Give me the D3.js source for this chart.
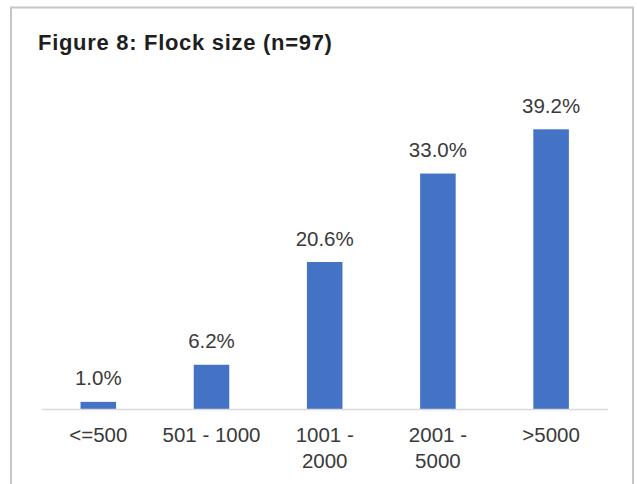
<!DOCTYPE html>
<html>
<head>
<meta charset="utf-8">
<script src="https://cdn.jsdelivr.net/npm/d3@7"></script>
<style>
  html, body { margin: 0; padding: 0; background: #ffffff; }
  svg { display: block; }
</style>
</head>
<body>
<svg id="chart" width="637" height="484"></svg>
<script>
const title = "Figure 8: Flock size (n=97)";
const categories = ["<=500", "501 - 1000", "1001 - 2000", "2001 - 5000", ">5000"];
const categoryLines = [["<=500"], ["501 - 1000"], ["1001 -", "2000"], ["2001 -", "5000"], [">5000"]];
const values = [1.0, 6.2, 20.6, 33.0, 39.2];
const valueLabels = ["1.0%", "6.2%", "20.6%", "33.0%", "39.2%"];

const svg = d3.select("#chart");
const font = "'Liberation Sans', Arial, Helvetica, sans-serif";

// outer frame
svg.append("rect")
  .attr("x", 11).attr("y", 7.5)
  .attr("width", 622).attr("height", 500)
  .attr("fill", "#ffffff")
  .attr("stroke", "#c6c6c6")
  .attr("stroke-width", 2);

// title
svg.append("text")
  .attr("x", 38).attr("y", 50)
  .attr("font-family", font)
  .attr("font-weight", "bold")
  .attr("font-size", 22)
  .attr("letter-spacing", 0.7)
  .attr("fill", "#1f1f1f")
  .text(title);

const x = d3.scaleBand()
  .domain(categories)
  .range([41.7, 607.7])
  .paddingInner(0.686)
  .paddingOuter(0.343);

const y = d3.scaleLinear()
  .domain([0, 45])
  .range([409, 409 - 45 * 7.135]);

// bars
svg.append("g").selectAll("rect")
  .data(values)
  .join("rect")
  .attr("x", (d, i) => x(categories[i]))
  .attr("y", d => y(d))
  .attr("width", x.bandwidth())
  .attr("height", d => y(0) - y(d))
  .attr("fill", "#4472C4");

// baseline axis
const xAxis = d3.axisBottom(x).tickSize(0).tickFormat("");
const axisG = svg.append("g").attr("transform", `translate(0,${y(0)})`).call(xAxis);
axisG.select(".domain").attr("stroke", "#d9d9d9").attr("stroke-width", 1.5);

// value labels
svg.append("g").selectAll("text")
  .data(values)
  .join("text")
  .attr("x", (d, i) => x(categories[i]) + x.bandwidth() / 2)
  .attr("y", d => y(d) - 16.5)
  .attr("text-anchor", "middle")
  .attr("font-family", font)
  .attr("font-size", 20.5)
  .attr("fill", "#3a3a3a")
  .text((d, i) => valueLabels[i]);

// category labels
const catG = svg.append("g");
categories.forEach((c, i) => {
  const t = catG.append("text")
    .attr("x", x(c) + x.bandwidth() / 2)
    .attr("y", 442)
    .attr("text-anchor", "middle")
    .attr("font-family", font)
    .attr("font-size", 20.5)
    .attr("fill", "#3a3a3a");
  categoryLines[i].forEach((line, j) => {
    t.append("tspan")
      .attr("x", x(c) + x.bandwidth() / 2)
      .attr("dy", j === 0 ? 0 : 25.5)
      .text(line);
  });
});
</script>
</body>
</html>
